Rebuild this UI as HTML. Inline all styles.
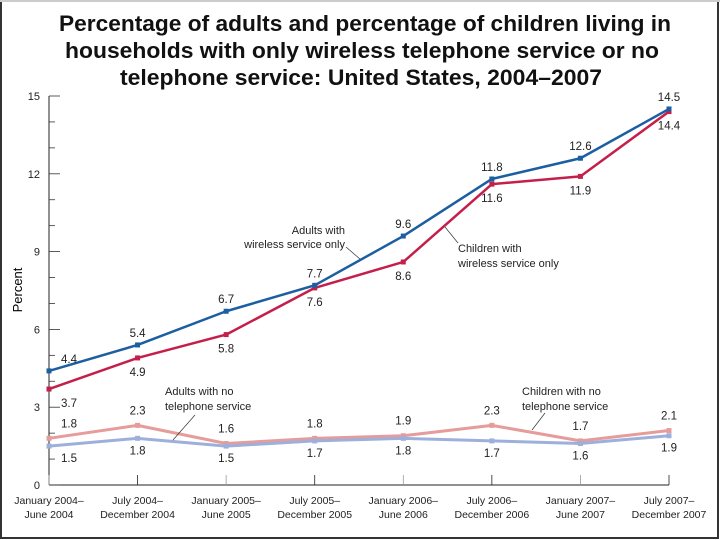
<!DOCTYPE html>
<html><head><meta charset="utf-8"><style>
body{margin:0;background:#fff}
svg{display:block;font-family:"Liberation Sans",Arial,sans-serif}
</style></head><body>
<svg id="c" width="720" height="540">
<rect x="1" y="1" width="717" height="537" fill="#fff" stroke="#333" stroke-width="2"/>
<line x1="0" y1="1" x2="720" y2="1" stroke="#ccc" stroke-width="2"/>
<g font-weight="bold" font-size="22" text-anchor="middle" fill="#111">
<text x="365" y="31" textLength="612" lengthAdjust="spacingAndGlyphs">Percentage of adults and percentage of children living in</text>
<text x="362" y="58" textLength="594" lengthAdjust="spacingAndGlyphs">households with only wireless telephone service or no</text>
<text x="361" y="85" textLength="482" lengthAdjust="spacingAndGlyphs">telephone service: United States, 2004–2007</text>
</g>
<text transform="translate(22,290) rotate(-90)" text-anchor="middle" font-size="13">Percent</text>
<g id="axes"></g><g id="marks"></g><g id="labels"></g>
<g font-size="11" fill="#222">
<text x="345" y="234" text-anchor="end">Adults with</text><text x="345" y="248" text-anchor="end">wireless service only</text>
<line x1="346" y1="247" x2="360" y2="259" stroke="#333" stroke-width="0.7"/>
<text x="458" y="252">Children with</text><text x="458" y="267">wireless service only</text>
<line x1="445" y1="227" x2="458" y2="243" stroke="#333" stroke-width="0.7"/>
<text x="165" y="395">Adults with no</text><text x="165" y="410">telephone service</text>
<line x1="195" y1="415" x2="173" y2="440" stroke="#333" stroke-width="0.7"/>
<text x="522" y="395">Children with no</text><text x="522" y="410">telephone service</text>
<line x1="545" y1="413" x2="532" y2="430" stroke="#333" stroke-width="0.7"/>
</g>
</svg>
<script>
const periods=[["January 2004–","June 2004"],["July 2004–","December 2004"],["January 2005–","June 2005"],["July 2005–","December 2005"],["January 2006–","June 2006"],["July 2006–","December 2006"],["January 2007–","June 2007"],["July 2007–","December 2007"]];
const adultsWireless=[4.4,5.4,6.7,7.7,9.6,11.8,12.6,14.5];
const childrenWireless=[3.7,4.9,5.8,7.6,8.6,11.6,11.9,14.4];
const adultsNoPhone=[1.5,1.8,1.5,1.7,1.8,1.7,1.6,1.9];
const childrenNoPhone=[1.8,2.3,1.6,1.8,1.9,2.3,1.7,2.1];
const yTicks=[0,3,6,9,12,15];

const NS="http://www.w3.org/2000/svg";
const x0=49,x1=669,yb=485,yt=96,ymax=15;
const X=i=>x0+i*(x1-x0)/(periods.length-1);
const Y=v=>yb-v*(yb-yt)/ymax;
function mk(tag,attrs,parent,txt){const e=document.createElementNS(NS,tag);for(const k in attrs)e.setAttribute(k,attrs[k]);if(txt!==undefined)e.textContent=txt;parent.appendChild(e);return e;}
const axes=document.getElementById('axes'),marks=document.getElementById('marks'),labels=document.getElementById('labels');
let a=mk('line',{x1:x0,y1:yt,x2:x0,y2:yb,stroke:'#222','stroke-width':1},axes);


a=mk('line',{x1:x0,y1:yb,x2:x1,y2:yb,stroke:'#222','stroke-width':1},axes);


for(let v=0;v<=ymax;v++){const major=yTicks.includes(v);
 const t=mk('line',{x1:x0,y1:Y(v),x2:x0+(major?11:6),y2:Y(v),stroke:'#333','stroke-width':0.8},axes);
 
 }
yTicks.forEach(v=>{const t=mk('text',{x:40,y:Y(v)+4,'text-anchor':'end','font-size':11,fill:'#222'},axes,v);
 
 });
periods.forEach((p,i)=>{
 const t=mk('line',{x1:X(i),y1:yb,x2:X(i),y2:yb-10,stroke:i%2?'#222':'#999','stroke-width':0.8},axes);
 
 
 const g=mk('text',{'text-anchor':'middle','font-size':10.5,fill:'#222'},axes);
 
 
 mk('tspan',{x:X(i),y:504},g,p[0]);mk('tspan',{x:X(i),y:518},g,p[1]);
});
const series=[
 {d:childrenNoPhone,c:'#e59c9a',w:3,name:'children-no-phone',dy:-15},
 {d:adultsNoPhone,c:'#9db0dc',w:3,name:'adults-no-phone',dy:12},
 {d:childrenWireless,c:'#c41f4b',w:2.5,name:'children-wireless',dy:14},
 {d:adultsWireless,c:'#1c5ea2',w:2.5,name:'adults-wireless',dy:-12}];
series.forEach(s=>{
 const pl=mk('polyline',{points:s.d.map((v,i)=>X(i)+','+Y(v)).join(' '),fill:'none',stroke:s.c,'stroke-width':s.w,'stroke-linejoin':'round'},marks);
 
 
 s.d.forEach((v,i)=>{
  const p=mk('rect',{x:X(i)-2.5,y:Y(v)-2.5,width:5,height:5,fill:s.c},marks);
  
  
  const tx=i===0?X(i)+20:X(i);
  const t=mk('text',{x:tx,y:Y(v)+s.dy+4,'text-anchor':'middle','font-size':11.5,fill:'#222'},labels,v.toFixed(1));
  
  
 });
});
</script>
</body></html>
